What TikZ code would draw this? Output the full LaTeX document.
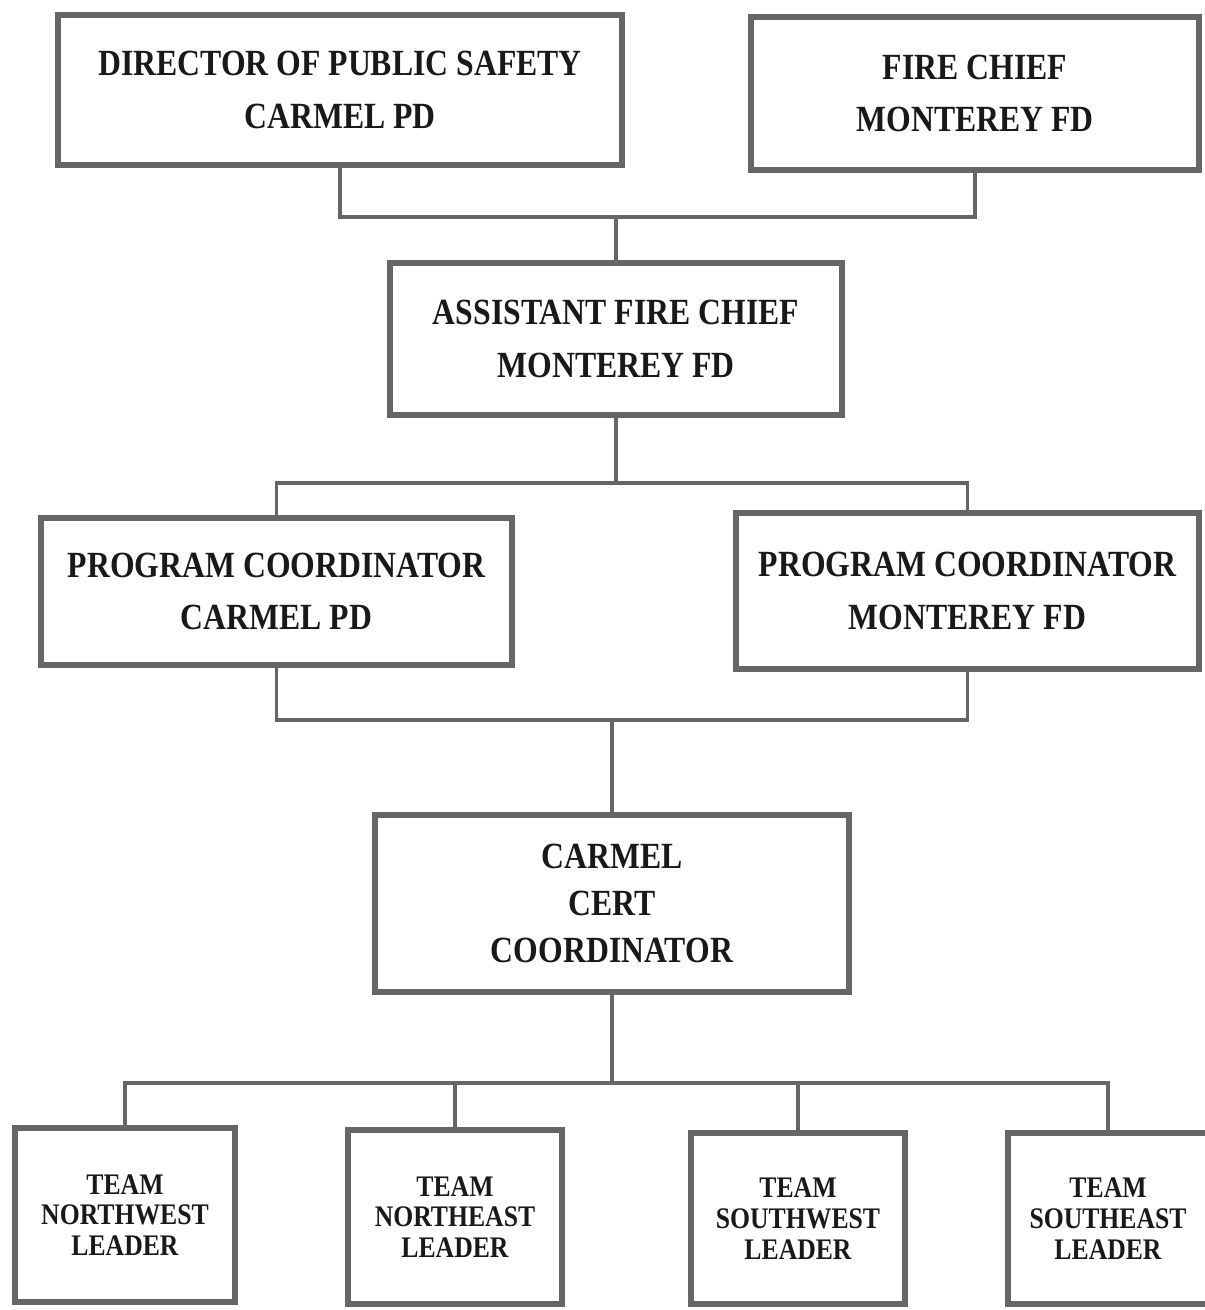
\documentclass[tikz,border=0pt]{standalone}
\usepackage{fontspec}
\setmainfont{Liberation Serif}[FakeStretch=0.86]
\usetikzlibrary{positioning}
\definecolor{frame}{gray}{0.4}
\definecolor{ink}{gray}{0.1}

\begin{document}
\begin{tikzpicture}[x=0.02cm,y=-0.02cm,
  box/.style={draw=frame,line width=3pt,text=ink,align=center,inner sep=0pt,
    font=\bfseries\fontsize{21}{30}\selectfont},
  teambox/.style={box,font=\bfseries\fontsize{17}{17.5}\selectfont},
  sz/.style n args={2}{minimum width=#1cm,minimum height=#2cm},
  link/.style={frame,line width=2pt}]
\useasboundingbox (0,0) rectangle (1204,1310);
% top row
\node[box,sz={11.28}{3.00}] (dir) at (340,90) {DIRECTOR OF PUBLIC SAFETY\\CARMEL PD};
\node[box,sz={8.96}{3.06}] (fire) at (975,93.5) {FIRE CHIEF\\MONTEREY FD};
\node[box,sz={9.04}{3.04}] (asst) at (616,339) {ASSISTANT FIRE CHIEF\\MONTEREY FD};
% program coordinators
\node[box,sz={9.42}{2.94}] (pcpd) at (276.5,591.5) {PROGRAM COORDINATOR\\CARMEL PD};
\node[box,sz={9.26}{3.12}] (pcfd) at (967.5,591) {PROGRAM COORDINATOR\\MONTEREY FD};
\node[box,sz={9.48}{3.54},font=\bfseries\fontsize{21}{27}\selectfont] (cert) at (612,903.5) {CARMEL\\CERT\\COORDINATOR};
% team leaders
\node[teambox,sz={4.40}{3.48}] (nw) at (125,1215) {TEAM\\NORTHWEST\\LEADER};
\node[teambox,sz={4.28}{3.48}] (ne) at (455,1217) {TEAM\\NORTHEAST\\LEADER};
\node[teambox,sz={4.28}{3.42}] (sw) at (798,1218.5) {TEAM\\SOUTHWEST\\LEADER};
\node[teambox,sz={4.00}{3.42}] (se) at (1108,1218.5) {TEAM\\SOUTHEAST\\LEADER};
% connectors
\coordinate (top) at (616,217);
\draw[link] (dir.south) |- (top) -| (fire.south);
\draw[link] (top) -- (asst.north);
\coordinate (mid) at (616,483);
\draw[link] (asst.south) -- (mid);
\draw[link] (pcpd.north) |- (mid) -| (pcfd.north);
\coordinate (low) at (612,720);
\draw[link] (pcpd.south) |- (low) -| (pcfd.south);
\draw[link] (low) -- (cert.north);
\coordinate (bot) at (612,1083);
\draw[link] (cert.south) -- (bot);
\draw[link] (nw.north) |- (se.north |- bot) -- (se.north);
\foreach \t in {ne,sw}
  \draw[link] (\t.north) -- (\t.north |- bot);
\end{tikzpicture}
\end{document}
